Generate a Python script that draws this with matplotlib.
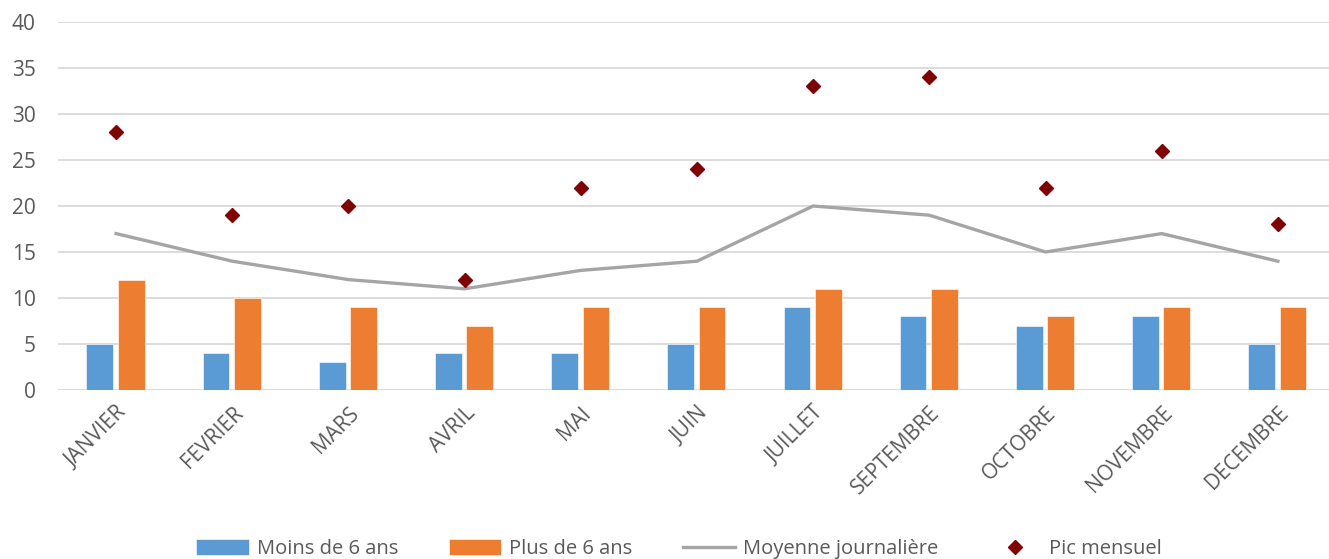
import matplotlib.pyplot as plt
import numpy as np

months = ["JANVIER", "FEVRIER", "MARS", "AVRIL", "MAI", "JUIN", "JUILLET",
          "SEPTEMBRE", "OCTOBRE", "NOVEMBRE", "DECEMBRE"]
moins_6 = [5, 4, 3, 4, 4, 5, 9, 8, 7, 8, 5]
plus_6 = [12, 10, 9, 7, 9, 9, 11, 11, 8, 9, 9]
moyenne = [17, 14, 12, 11, 13, 14, 20, 19, 15, 17, 14]
pic = [28, 19, 20, 12, 22, 24, 33, 34, 22, 26, 18]

plt.rcParams['font.family'] = ['Open Sans', 'DejaVu Sans']

fig = plt.figure(figsize=(13.29, 5.59), dpi=100)
ax = fig.add_axes([58 / 1329, 169 / 559, 1278 / 1329, 368 / 559])

x = np.arange(len(months))
w = 0.23
b1 = ax.bar(x - 0.14, moins_6, w, color='#5B9BD5', edgecolor='white', linewidth=0.4,
            label='Moins de 6 ans', zorder=2)
b2 = ax.bar(x + 0.13, plus_6, w, color='#ED7D31', edgecolor='white', linewidth=0.4,
            label='Plus de 6 ans', zorder=2)
l1, = ax.plot(x, moyenne, color='#A5A5A5', lw=2.4, label='Moyenne journalière', zorder=3)
l2, = ax.plot(x, pic, 'D', color='#7F0000', ms=7, ls='none', label='Pic mensuel', zorder=4)

ax.set_xlim(-0.5, len(months) - 0.5)
ax.set_ylim(0, 40)
ax.set_yticks(range(0, 41, 5))
ax.grid(axis='y', color='#D9D9D9', lw=1.3, zorder=0)
ax.set_axisbelow(True)
for s in ax.spines.values():
    s.set_visible(False)
ax.tick_params(length=0, labelsize=15, colors='#595959')
ax.tick_params(axis='y', pad=16)
ax.set_xticks(x)
ax.set_xticklabels(months, rotation=45, ha='right', rotation_mode='anchor', fontsize=15)
ax.tick_params(axis='x', pad=9)

fig.legend(handles=[b1, b2, l1, l2], loc='center', bbox_to_anchor=(0.511, 10 / 559),
           ncol=4, frameon=False, fontsize=14.5, labelcolor='#595959',
           handlelength=2.6, handleheight=0.8, columnspacing=2.5, handletextpad=0.4)

fig.savefig('out.png', dpi=100)
